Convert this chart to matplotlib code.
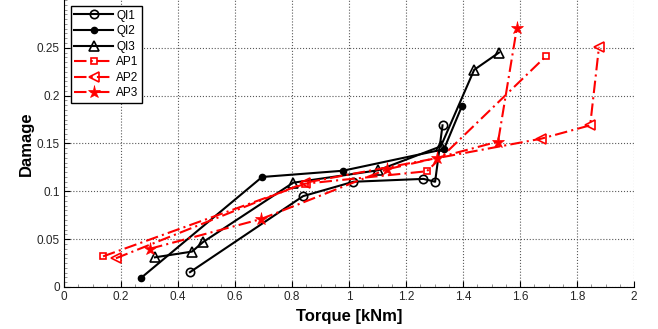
import matplotlib.pyplot as plt
from matplotlib.ticker import MultipleLocator

plt.rcParams['font.family'] = ['Liberation Sans', 'DejaVu Sans']

# torque [kNm] and damage for each series
qi1_x = [0.442, 0.839, 1.015, 1.261, 1.302, 1.328]
qi1_y = [0.0155, 0.095, 0.110, 0.113, 0.110, 0.169]
qi2_x = [0.270, 0.695, 0.978, 1.333, 1.396]
qi2_y = [0.0094, 0.115, 0.1215, 0.144, 0.189]
qi3_x = [0.319, 0.449, 0.488, 0.804, 1.102, 1.322, 1.439, 1.526]
qi3_y = [0.031, 0.037, 0.047, 0.109, 0.122, 0.147, 0.227, 0.245]
ap1_x = [0.137, 0.846, 1.273, 1.690]
ap1_y = [0.032, 0.108, 0.121, 0.241]
ap2_x = [0.182, 0.846, 1.674, 1.846, 1.877]
ap2_y = [0.030, 0.109, 0.155, 0.169, 0.251]
ap3_x = [0.302, 0.691, 1.133, 1.309, 1.523, 1.589]
ap3_y = [0.040, 0.071, 0.123, 0.135, 0.152, 0.271]

fig = plt.figure(figsize=(6.58, 3.29), dpi=100)
ax = fig.add_axes([0.0973, 0.1277, 0.8663, 0.8723])

dd = (6, 2, 1, 2)
ax.plot(qi1_x, qi1_y, '-', color='k', lw=1.5, marker='o', ms=6, mfc='none', mew=1.2, label='QI1')
ax.plot(qi2_x, qi2_y, '-', color='k', lw=1.5, marker='o', ms=4.5, mfc='k', label='QI2')
ax.plot(qi3_x, qi3_y, '-', color='k', lw=1.5, marker='^', ms=6.5, mfc='none', mew=1.2, label='QI3')
ax.plot(ap1_x, ap1_y, color='r', lw=1.5, dashes=dd, marker='s', ms=5, mfc='none', mew=1.2, label='AP1')
ax.plot(ap2_x, ap2_y, color='r', lw=1.5, dashes=dd, marker='<', ms=6.5, mfc='none', mew=1.2, label='AP2')
ax.plot(ap3_x, ap3_y, color='r', lw=1.5, dashes=dd, marker='*', ms=9.5, mfc='r', mew=0.5, label='AP3')

ax.set_xlim(0, 2)
ax.set_ylim(0, 0.3)
ax.set_xticks([0, 0.2, 0.4, 0.6, 0.8, 1, 1.2, 1.4, 1.6, 1.8, 2])
ax.set_xticklabels(['0', '0.2', '0.4', '0.6', '0.8', '1', '1.2', '1.4', '1.6', '1.8', '2'])
ax.set_yticks([0, 0.05, 0.1, 0.15, 0.2, 0.25])
ax.set_yticklabels(['0', '0.05', '0.1', '0.15', '0.2', '0.25'])
ax.xaxis.set_minor_locator(MultipleLocator(0.05))
ax.yaxis.set_minor_locator(MultipleLocator(0.005))
ax.tick_params(which='major', direction='in', length=4, width=0.8, labelsize=8.5, pad=3,
               labelcolor='0.15')
ax.tick_params(which='minor', direction='in', length=2, width=0.5, color='0.4')
ax.grid(True, which='major', linestyle=':', color='0.35', lw=0.8)
ax.spines['top'].set_visible(False)
ax.spines['right'].set_visible(False)

ax.set_xlabel('Torque [kNm]', fontsize=12, fontweight='bold', labelpad=4)
ax.set_ylabel('Damage', fontsize=12, fontweight='bold', labelpad=2)

leg = ax.legend(loc='upper left', bbox_to_anchor=(0.012, 0.979), fontsize=8.5, frameon=True,
                fancybox=False, edgecolor='k', framealpha=1, handlelength=3.3,
                labelspacing=0.3, borderpad=0.3, handletextpad=0.25, borderaxespad=0)
leg.get_frame().set_linewidth(1.0)

fig.savefig('out.png', dpi=100)
